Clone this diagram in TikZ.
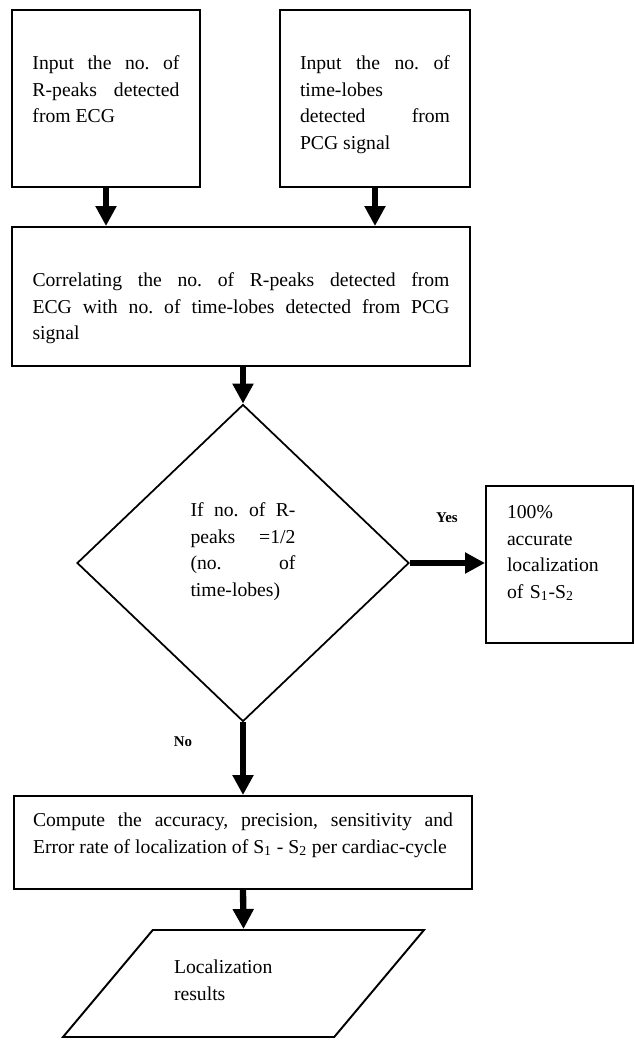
\documentclass[tikz,border=0pt]{standalone}
\usepackage{fontspec}
\setmainfont{Liberation Serif}
\usepackage{tikz}
\usetikzlibrary{shapes.geometric, arrows.meta}
\hyphenpenalty=10000
\exhyphenpenalty=10000
\tolerance=10000
\hbadness=10000
\tikzset{
	procbox/.style  ={rectangle, draw=black, line width=1.1pt, align=justify, inner sep=0pt, text height=0.3cm},
	decide/.style   ={diamond, aspect=1, draw=black, line width=1pt, align=justify, inner sep=0pt, text width=2.1cm, minimum width=6.64cm, minimum height=6.34cm, text height=0.3cm, text depth=2.16cm},
	iobox/.style    ={trapezium, trapezium left angle=50, trapezium right angle=130, trapezium stretches body, draw=black, line width=1.1pt, align=left, inner sep=0pt},
	fatarrow/.style ={-{Triangle[length=0.4cm, width=0.4cm]}, line width=3.6pt},
	branchlbl/.style={font=\fontsize{8.5}{10}\selectfont\bfseries},
}
\begin{document}
\begin{tikzpicture}[font=\fontsize{11.2}{15.1}\selectfont\frenchspacing]
	\useasboundingbox (0,0) rectangle (12.7,-20.92);
	\node[procbox, minimum width=3.76cm, minimum height=3.54cm, text width=2.94cm, text depth=1.46cm] (ecg) at (2.12,-1.97) {Input the no. of\linebreak R-peaks detected\linebreak from ECG};
	\node[procbox, minimum width=3.8cm, minimum height=3.54cm, text width=3.0cm, text depth=1.46cm] (pcg) at (7.5,-1.97) {Input the no. of\linebreak time-lobes\linebreak detected from\linebreak PCG signal};
	\node[procbox, minimum width=9.16cm, minimum height=2.78cm, text width=8.34cm, text depth=0.7cm] (corr) at (4.82,-5.93) {Correlating the no. of R-peaks detected from\linebreak ECG with no. of time-lobes detected from PCG\linebreak signal};
	\node[decide] (cond) at (4.86,-11.26) {If no. of R-\linebreak peaks =1/2\linebreak (no. of\linebreak time-lobes)};
	\node[procbox, align=left, minimum width=2.94cm, minimum height=3.14cm, text width=2.1cm, text depth=2.14cm] (ok) at (11.19,-11.29) {100\%\\ accurate\\ localization\\ of S\textsubscript{1}-S\textsubscript{2}};
	\node[procbox, minimum width=9.16cm, minimum height=1.86cm, text width=8.4cm, text depth=0.94cm] (metr) at (4.86,-16.85) {Compute the accuracy, precision, sensitivity and\linebreak Error rate of localization of S\textsubscript{1} - S\textsubscript{2} per cardiac-cycle};
	\node[iobox, minimum width=7.22cm, text width=2.78cm, text height=0.87cm, text depth=1.27cm] (res) at (4.87,-19.67) {Localization\\ results};
	\node[branchlbl] (yes) at (8.94,-10.36) {Yes};
	\node[branchlbl] (no) at (3.66,-14.84) {No};
	\draw[fatarrow] (ecg.south) -- (ecg.south |- corr.north);
	\draw[fatarrow] (pcg.south) -- (pcg.south |- corr.north);
	\draw[fatarrow] (corr.south -| cond.north) -- (cond.north);
	\draw[fatarrow] (cond.east) -- (ok.west |- cond.east);
	\draw[fatarrow] (cond.south) -- (metr.north);
	\draw[fatarrow] (metr.south) -- (res.north);
\end{tikzpicture}
\end{document}
